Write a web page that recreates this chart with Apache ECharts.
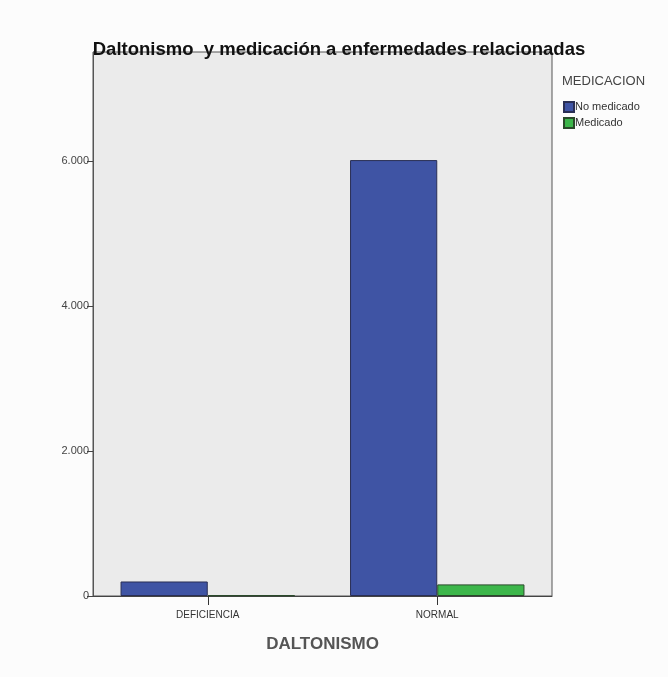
<!DOCTYPE html>
<html><head><meta charset="utf-8">
<script src="https://cdn.jsdelivr.net/npm/echarts@6/dist/echarts.min.js"></script>
<style>html,body{margin:0;padding:0;background:#fcfcfc;}#c{width:668px;height:677px;}</style>
</head><body><div id="c"></div>
<script>
var categories = ['DEFICIENCIA', 'NORMAL'];
var seriesNames = ['No medicado', 'Medicado'];
var noMedicado = [200, 6010];
var medicado = [10, 160];
var yTicks = [0, 2000, 4000, 6000];

var chart = echarts.init(document.getElementById('c'));
function fmt(v){ return String(v).replace(/\B(?=(\d{3})+(?!\d))/g, '.'); }
chart.setOption({
  backgroundColor: '#fcfcfc',
  animation: false,
  title: [{
    text: 'Daltonismo  y medicación a enfermedades relacionadas',
    left: 334, top: 35, textAlign: 'center',
    textStyle: {fontFamily: 'Liberation Sans, Arial', fontSize: 18.5, fontWeight: 'bold', color: '#111'}
  }, {
    text: 'MEDICACION', left: 557, top: 70,
    textStyle: {fontFamily: 'Liberation Sans, Arial', fontSize: 13, fontWeight: 'normal', color: '#444'}
  }],
  legend: {
    orient: 'vertical', left: 558, top: 96, itemWidth: 10, itemHeight: 10, itemGap: 4,
    icon: 'rect',
    data: seriesNames,
    textStyle: {fontFamily: 'Liberation Sans, Arial', fontSize: 11, color: '#333', padding: [0,0,0,-4]}
  },
  grid: {left: 93, right: 116, top: 52, bottom: 81, show: true, backgroundColor: '#ebebeb', borderColor: '#555', borderWidth: 1},
  xAxis: {
    type: 'category', data: categories,
    name: 'DALTONISMO', nameLocation: 'middle', nameGap: 40,
    nameTextStyle: {fontFamily: 'Liberation Sans, Arial', fontSize: 17, fontWeight: 'bold', color: '#555'},
    axisLine: {lineStyle: {color: '#444'}},
    axisTick: {show: true, alignWithLabel: true, length: 9, lineStyle: {color: '#333', width: 1}},
    axisLabel: {fontFamily: 'Liberation Sans, Arial', fontSize: 10, color: '#333', margin: 14}
  },
  yAxis: {
    type: 'value', min: 0, max: 7500, interval: 2000,
    axisLine: {show: true, lineStyle: {color: '#555'}},
    axisTick: {show: true, length: 6, lineStyle: {color: '#444'}, customValues: yTicks},
    splitLine: {show: false},
    axisLabel: {fontFamily: 'Liberation Sans, Arial', fontSize: 11, color: '#444', margin: 4,
      customValues: yTicks,
      formatter: function(v){ return yTicks.indexOf(v) >= 0 ? fmt(v) : ''; }}
  },
  series: [{
    name: seriesNames[0], type: 'bar', data: noMedicado, barGap: '0%', barCategoryGap: '24%',
    itemStyle: {color: '#3f54a4', borderColor: '#2a2f55', borderWidth: 1}
  }, {
    name: seriesNames[1], type: 'bar', data: medicado,
    itemStyle: {color: '#3cb64a', borderColor: '#2a4a2a', borderWidth: 1}
  }]
});
</script></body></html>
